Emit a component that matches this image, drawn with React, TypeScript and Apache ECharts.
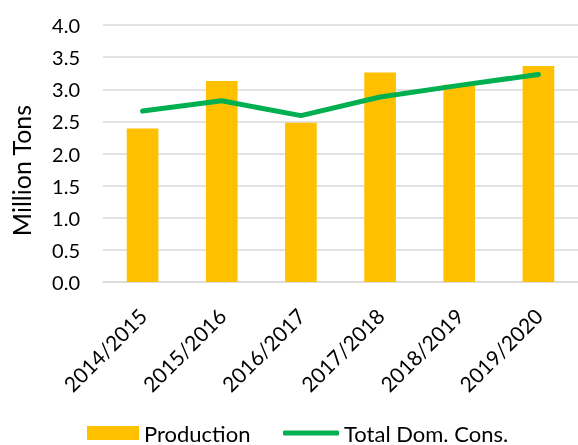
import React, { useEffect, useRef } from "react";
import * as echarts from "echarts";

const categories = ["2014/2015", "2015/2016", "2016/2017", "2017/2018", "2018/2019", "2019/2020"];
const production = [2.39, 3.13, 2.48, 3.26, 3.07, 3.36];
const totalDomCons = [2.66, 2.82, 2.59, 2.88, 3.06, 3.23];
const yTicks = { min: 0, max: 4, interval: 0.5 };
const yAxisTitle = "Million Tons";

const FONT = "Lato";

export default function App() {
  const ref = useRef<HTMLDivElement>(null);
  useEffect(() => {
    if (!ref.current) return;
    const chart = echarts.init(ref.current, null, { renderer: "svg" });
    const legendText = { fontFamily: FONT, fontSize: 22, lineHeight: 18, color: "#000" };
    chart.setOption({
      animation: false,
      textStyle: { fontFamily: FONT },
      grid: { left: 102, right: 0, top: 25, bottom: 163, containLabel: false },
      legend: [
        {
          data: [{ name: "Production", icon: "rect" }],
          left: 87,
          top: 422,
          padding: 0,
          itemWidth: 52,
          itemHeight: 14,
          textStyle: legendText,
          selectedMode: false,
        },
        {
          data: [{ name: "Total Dom. Cons.", icon: "roundRect", itemStyle: { color: "#00B050" } }],
          left: 283,
          top: 422,
          padding: 0,
          itemWidth: 56,
          itemHeight: 5,
          textStyle: legendText,
          selectedMode: false,
        },
      ],
      xAxis: {
        type: "category",
        data: categories,
        axisLine: { show: true, lineStyle: { color: "#D9D9D9", width: 1.5 } },
        axisTick: { show: false },
        axisLabel: {
          rotate: 45,
          interval: 0,
          margin: 30,
          verticalAlign: "middle",
          fontFamily: FONT,
          fontSize: 21,
          color: "#000",
        },
      },
      yAxis: {
        type: "value",
        min: yTicks.min,
        max: yTicks.max,
        interval: yTicks.interval,
        name: yAxisTitle,
        nameLocation: "middle",
        nameGap: 70,
        nameRotate: 90,
        nameTextStyle: {
          fontFamily: FONT,
          fontSize: 25,
          color: "#000",
          padding: [0, 34, 0, 0],
        },
        axisLine: { show: false },
        axisTick: { show: false },
        splitLine: { show: true, lineStyle: { color: "#D9D9D9", width: 1.5 } },
        axisLabel: {
          margin: 23,
          fontFamily: FONT,
          fontSize: 20,
          color: "#000",
          formatter: (v: number) => v.toFixed(1),
        },
      },
      series: [
        {
          name: "Production",
          type: "bar",
          data: production,
          barWidth: "40%",
          itemStyle: { color: "#FFC000" },
        },
        {
          name: "Total Dom. Cons.",
          type: "line",
          data: totalDomCons,
          symbol: "none",
          lineStyle: { color: "#00B050", width: 5, cap: "round", join: "round" },
          itemStyle: { color: "#00B050" },
        },
      ],
    });
    return () => chart.dispose();
  }, []);
  return (
    <div
      ref={ref}
      style={{ position: "fixed", left: 0, top: 0, width: 578, height: 445 }}
    />
  );
}
